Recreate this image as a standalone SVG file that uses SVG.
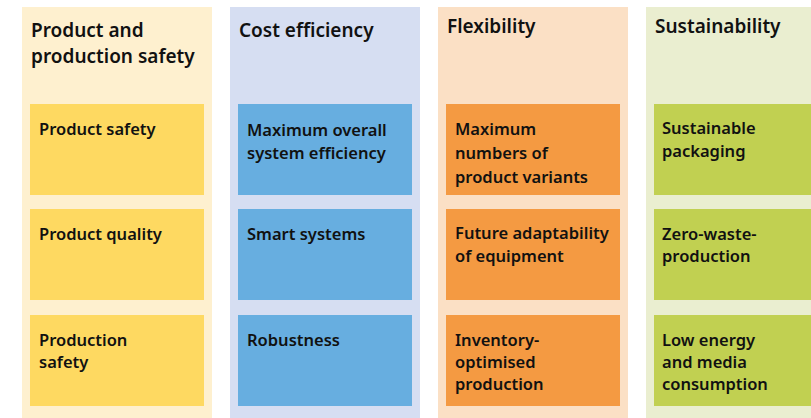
<svg xmlns="http://www.w3.org/2000/svg" width="811" height="418" viewBox="0 0 811 418">
  <style>
    text { font-family: "Noto Sans", "Liberation Sans", sans-serif; font-weight: 600; fill: #111111; }
    .head { font-size: 19px; }
    .item { font-size: 16.5px; }
    .bg1 { fill: #FEF0CF; } .box1 { fill: #FED961; }
    .bg2 { fill: #D6DEF2; } .box2 { fill: #67AEE0; }
    .bg3 { fill: #FBE0C5; } .box3 { fill: #F49A42; }
    .bg4 { fill: #EAEED0; } .box4 { fill: #C1D051; }
  </style>
  <rect width="811" height="418" fill="#ffffff"/>

  <!-- Column 1: product and production safety -->
  <g id="col-safety">
    <rect class="bg1" x="22" y="7" width="190" height="411"/>
    <text class="head" x="31" y="37">Product and<tspan x="31" y="63">production safety</tspan></text>
  </g>
  <g id="product-safety">
    <rect class="box1" x="30" y="104" width="174" height="91"/>
    <text class="item" x="39" y="135">Product safety</text>
  </g>
  <g id="product-quality">
    <rect class="box1" x="30" y="209" width="174" height="91"/>
    <text class="item" x="39" y="240">Product quality</text>
  </g>
  <g id="production-safety">
    <rect class="box1" x="30" y="315" width="174" height="91"/>
    <text class="item" x="39" y="346">Production<tspan x="39" y="368">safety</tspan></text>
  </g>

  <!-- Column 2: cost efficiency -->
  <g id="col-cost">
    <rect class="bg2" x="230" y="7" width="190" height="411"/>
    <text class="head" x="239" y="37">Cost efficiency</text>
  </g>
  <g id="system-efficiency">
    <rect class="box2" x="238" y="104" width="174" height="91"/>
    <text class="item" x="247" y="136">Maximum overall<tspan x="247" y="159">system efficiency</tspan></text>
  </g>
  <g id="smart-systems">
    <rect class="box2" x="238" y="209" width="174" height="91"/>
    <text class="item" x="247" y="240">Smart systems</text>
  </g>
  <g id="robustness">
    <rect class="box2" x="238" y="315" width="174" height="91"/>
    <text class="item" x="247" y="346">Robustness</text>
  </g>

  <!-- Column 3: flexibility -->
  <g id="col-flex">
    <rect class="bg3" x="438" y="7" width="190" height="411"/>
    <text class="head" x="447" y="33">Flexibility</text>
  </g>
  <g id="product-variants">
    <rect class="box3" x="446" y="104" width="174" height="91"/>
    <text class="item" x="455" y="135">Maximum<tspan x="455" y="159">numbers of</tspan><tspan x="455" y="183">product variants</tspan></text>
  </g>
  <g id="adaptability">
    <rect class="box3" x="446" y="209" width="174" height="91"/>
    <text class="item" x="455" y="239">Future adaptability<tspan x="455" y="262">of equipment</tspan></text>
  </g>
  <g id="inventory">
    <rect class="box3" x="446" y="315" width="174" height="91"/>
    <text class="item" x="455" y="346">Inventory-<tspan x="455" y="368">optimised</tspan><tspan x="455" y="390">production</tspan></text>
  </g>

  <!-- Column 4: sustainability -->
  <g id="col-sustain">
    <rect class="bg4" x="646" y="7" width="190" height="411"/>
    <text class="head" x="655" y="33">Sustainability</text>
  </g>
  <g id="packaging">
    <rect class="box4" x="654" y="104" width="174" height="91"/>
    <text class="item" x="662" y="134">Sustainable<tspan x="662" y="157">packaging</tspan></text>
  </g>
  <g id="zero-waste">
    <rect class="box4" x="654" y="209" width="174" height="91"/>
    <text class="item" x="662" y="240">Zero-waste-<tspan x="662" y="262">production</tspan></text>
  </g>
  <g id="low-energy">
    <rect class="box4" x="654" y="315" width="174" height="91"/>
    <text class="item" x="662" y="346">Low energy<tspan x="662" y="368">and media</tspan><tspan x="662" y="390">consumption</tspan></text>
  </g>

  <g id="connectors"></g>
</svg>
